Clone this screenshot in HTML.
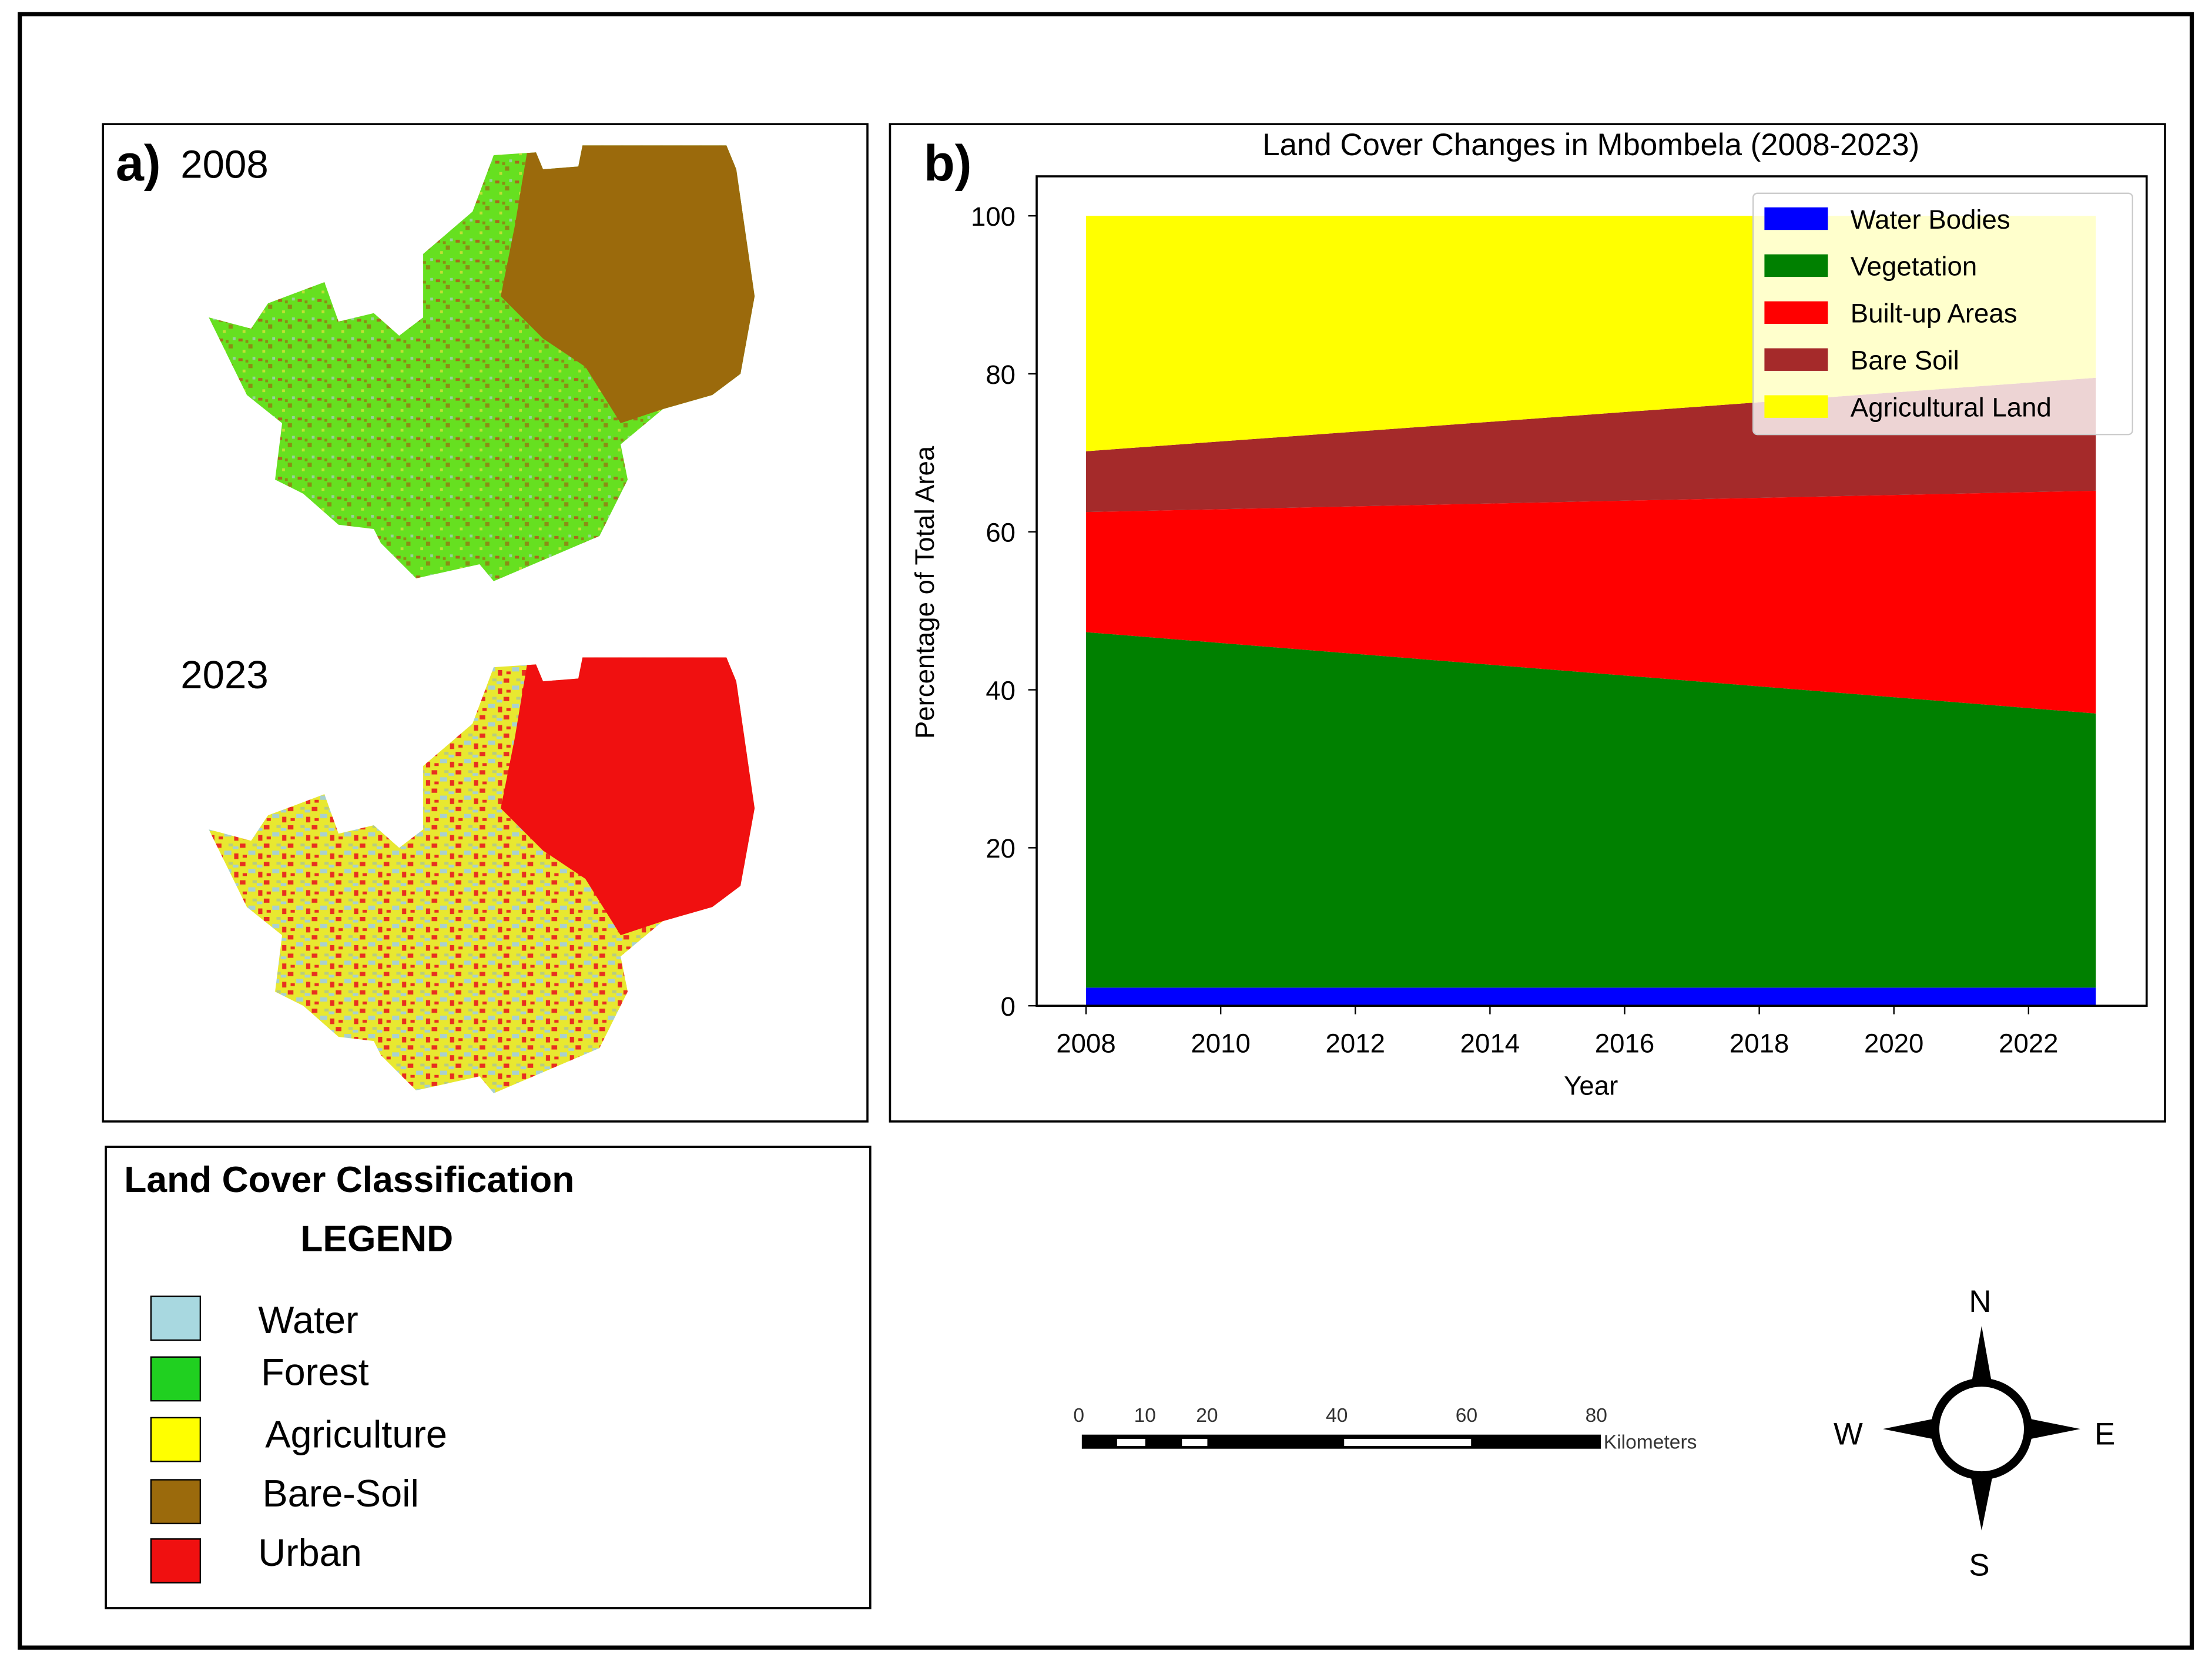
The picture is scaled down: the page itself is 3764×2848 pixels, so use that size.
<!DOCTYPE html>
<html><head><meta charset="utf-8"><style>
html,body{margin:0;padding:0;background:#fff;}
svg{display:block;}
text{font-family:"Liberation Sans","DejaVu Sans",sans-serif;}
</style></head><body>
<svg id="fig" width="3764" height="2848" viewBox="0 0 1568.3 1186.7" xmlns="http://www.w3.org/2000/svg">
<defs>
<pattern id="p08" width="14" height="14" patternUnits="userSpaceOnUse">
<rect x="1" y="2" width="3" height="2" fill="#c03a1a"/><rect x="8" y="6" width="3" height="3" fill="#9b6a10"/><rect x="4" y="10" width="2" height="2" fill="#e6e040"/><rect x="11" y="1" width="2" height="2" fill="#a9cfd0"/><rect x="6" y="3" width="2" height="2" fill="#9b6a10"/></pattern>
<pattern id="p23" width="17" height="13" patternUnits="userSpaceOnUse">
<rect width="17" height="13" fill="#e8e830"/><rect x="0" y="0" width="4" height="3" fill="#e83020"/><rect x="6" y="5" width="5" height="3" fill="#a8d0d0"/><rect x="2" y="8" width="3" height="2" fill="#e83020"/><rect x="9" y="0" width="3" height="2" fill="#b8cc80"/><rect x="13" y="7" width="3" height="4" fill="#e83020"/><rect x="12" y="2" width="4" height="2" fill="#a8d0d0"/></pattern>
<clipPath id="c08"><polygon points="148,225 178,233 190,215 230,200 240,228 265,222 283,238 300,225 300,180 335,150 350,110 380,108 385,120 410,118 413,103 515,103 522,120 535,210 525,265 505,280 470,290 440,315 445,340 425,380 350,412 340,400 295,410 270,385 265,375 240,372 215,350 195,340 200,300 175,280"/></clipPath>
<clipPath id="c23"><polygon transform="translate(0,363)" points="148,225 178,233 190,215 230,200 240,228 265,222 283,238 300,225 300,180 335,150 350,110 380,108 385,120 410,118 413,103 515,103 522,120 535,210 525,265 505,280 470,290 440,315 445,340 425,380 350,412 340,400 295,410 270,385 265,375 240,372 215,350 195,340 200,300 175,280"/></clipPath>
</defs>
<rect width="1568.3" height="1186.7" fill="#fff"/>
<rect x="14" y="10" width="1540" height="1158" fill="none" stroke="#000" stroke-width="3"/>

<g>
<rect x="73" y="88" width="542" height="707" fill="none" stroke="#000" stroke-width="1.5"/>
<text x="82" y="128" font-size="36" font-weight="bold">a)</text>
<text x="128" y="126" font-size="28">2008</text>
<text x="128" y="488" font-size="28">2023</text>
<g clip-path="url(#c08)">
<rect x="140" y="100" width="400" height="320" fill="#66e020"/>
<rect x="140" y="100" width="400" height="320" fill="url(#p08)" opacity="0.7"/>
<polygon points="375,100 540,100 540,290 470,290 440,300 415,260 385,240 355,210 365,160" fill="#9b6a0c"/>
</g>
<g clip-path="url(#c23)">
<rect x="140" y="463" width="400" height="320" fill="url(#p23)"/>
<polygon points="375,463 540,463 540,653 470,653 440,663 415,623 385,603 355,573 365,523" fill="#f01010"/>
</g>
</g>

<g>
<rect x="75" y="813" width="542" height="327" fill="none" stroke="#000" stroke-width="1.5"/>
<text x="88" y="845" font-size="26" font-weight="bold">Land Cover Classification</text>
<text x="213" y="887" font-size="26" font-weight="bold">LEGEND</text>
<g font-size="27">
<rect x="107" y="919" width="35" height="31" fill="#a8d8e0" stroke="#000"/><text x="183" y="945">Water</text>
<rect x="107" y="962" width="35" height="31" fill="#20d020" stroke="#000"/><text x="185" y="982">Forest</text>
<rect x="107" y="1005" width="35" height="31" fill="#ffff00" stroke="#000"/><text x="188" y="1026">Agriculture</text>
<rect x="107" y="1049" width="35" height="31" fill="#9b6a0c" stroke="#000"/><text x="186" y="1068">Bare-Soil</text>
<rect x="107" y="1091" width="35" height="31" fill="#f01010" stroke="#000"/><text x="183" y="1110">Urban</text>
</g>
</g>

<g font-size="14" fill="#333">
<rect x="767" y="1017" width="368" height="10" fill="#000"/>
<rect x="792" y="1020" width="20" height="5" fill="#fff"/>
<rect x="838" y="1020" width="18" height="5" fill="#fff"/>
<rect x="953" y="1020" width="90" height="5" fill="#fff"/>
<text x="761" y="1008">0</text><text x="804" y="1008">10</text><text x="848" y="1008">20</text><text x="940" y="1008">40</text><text x="1032" y="1008">60</text><text x="1124" y="1008">80</text>
<text x="1137" y="1027">Kilometers</text>
</g>

<g>
<polygon points="1405,940 1413,985 1397,985" fill="#000"/>
<polygon points="1405,1085 1413,1045 1397,1045" fill="#000"/>
<polygon points="1335,1013 1375,1005 1375,1021" fill="#000"/>
<polygon points="1475,1013 1435,1005 1435,1021" fill="#000"/>
<circle cx="1405" cy="1013" r="33" fill="#fff" stroke="#000" stroke-width="6"/>
<text x="1396" y="930" font-size="22">N</text>
<text x="1396" y="1117" font-size="22">S</text>
<text x="1300" y="1024" font-size="22">W</text>
<text x="1485" y="1024" font-size="22">E</text>
</g>

<g id="chart">
<rect x="631" y="88" width="904" height="707" fill="none" stroke="#000" stroke-width="1.5"/>
<text x="655" y="128" font-size="36" font-weight="bold">b)</text>
<text x="1128" y="110" font-size="22" text-anchor="middle">Land Cover Changes in Mbombela (2008-2023)</text>
<g id="areas"></g>
<rect x="735" y="125" width="787" height="588" fill="none" stroke="#000" stroke-width="1.5"/>
<g id="ticks" font-size="19"></g>
<text x="1128" y="776" font-size="19" text-anchor="middle">Year</text>
<text transform="translate(662,420) rotate(-90)" font-size="19" text-anchor="middle">Percentage of Total Area</text>
<g id="legend" font-size="19"></g>
</g>
</svg>
<script>
const years = [2008, 2023];
const seriesNames = ["Water Bodies", "Vegetation", "Built-up Areas", "Bare Soil", "Agricultural Land"];
const water = [2.3, 2.3];
const vegetation = [45.0, 34.7];
const builtUp = [15.2, 28.2];
const bareSoil = [7.7, 14.3];
const agricultural = [29.8, 20.5];
const xTicks = [2008, 2010, 2012, 2014, 2016, 2018, 2020, 2022];
const yTicks = [0, 20, 40, 60, 80, 100];
const colors = ["#0000ff", "#008000", "#ff0000", "#a52a2a", "#ffff00"];
const NS = "http://www.w3.org/2000/svg";
const xs = v => 770 + (v - 2008) * (1486 - 770) / 15;
const ys = v => 713 - v * 5.6;
const series = [water, vegetation, builtUp, bareSoil, agricultural];
const areas = document.getElementById('areas');
let base = years.map(() => 0);
series.forEach((s, i) => {
  const top = base.map((b, j) => b + s[j]);
  let d = years.map((y, j) => (j ? 'L' : 'M') + xs(y) + ',' + ys(top[j])).join(' ');
  for (let j = years.length - 1; j >= 0; j--) d += ' L' + xs(years[j]) + ',' + ys(base[j]);
  const p = document.createElementNS(NS, 'path');
  p.setAttribute('d', d + 'Z');
  p.setAttribute('fill', colors[i]);
  
  
  areas.appendChild(p);
  base = top;
});
const ticks = document.getElementById('ticks');
function add(tag, attrs, txt) { const e = document.createElementNS(NS, tag); for (const k in attrs) e.setAttribute(k, attrs[k]); if (txt !== undefined) e.textContent = txt; ticks.appendChild(e); return e; }
xTicks.forEach(t => {
  add('line', {x1: xs(t), x2: xs(t), y1: 713, y2: 719, stroke: '#000'});
  const e = add('text', {x: xs(t), y: 746, 'text-anchor': 'middle'}, t);
  
  
});
yTicks.forEach(t => {
  add('line', {x1: 729, x2: 735, y1: ys(t), y2: ys(t), stroke: '#000'});
  const e = add('text', {x: 720, y: ys(t) + 7, 'text-anchor': 'end'}, t);
  
  
});
const lg = document.getElementById('legend');
const box = document.createElementNS(NS, 'rect');
box.setAttribute('x', 1243); box.setAttribute('y', 137); box.setAttribute('width', 269); box.setAttribute('height', 171);
box.setAttribute('fill', 'rgba(255,255,255,0.8)'); box.setAttribute('stroke', '#ccc'); box.setAttribute('rx', 3);


lg.appendChild(box);
seriesNames.forEach((n, i) => {
  const y = 155 + i * 33.3;
  const r = document.createElementNS(NS, 'rect');
  r.setAttribute('x', 1251); r.setAttribute('y', y - 8); r.setAttribute('width', 45); r.setAttribute('height', 16); r.setAttribute('fill', colors[i]);
  
  
  lg.appendChild(r);
  const t = document.createElementNS(NS, 'text');
  t.setAttribute('x', 1312); t.setAttribute('y', y + 7); t.textContent = n;
  
  
  lg.appendChild(t);
});
</script>
</body></html>
